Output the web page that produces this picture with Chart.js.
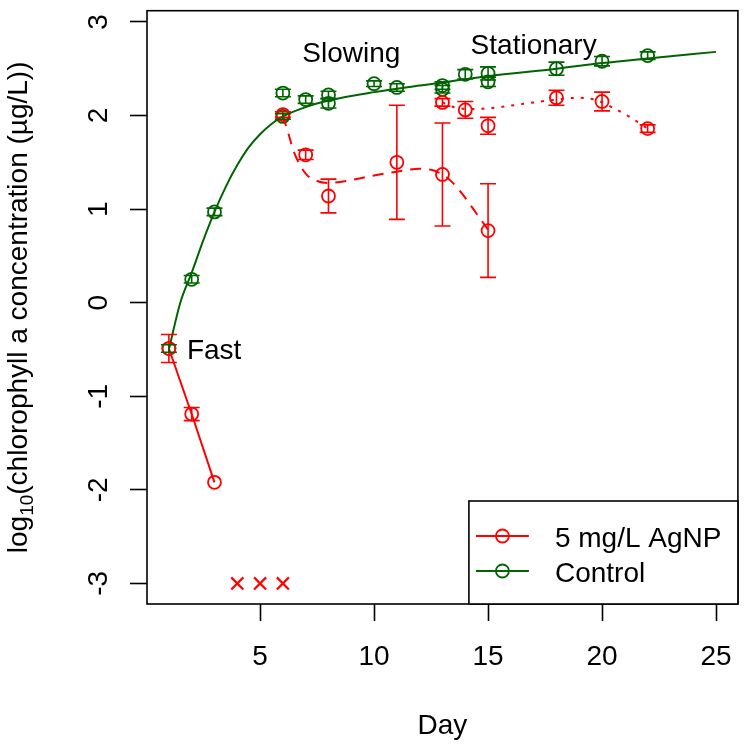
<!DOCTYPE html>
<html><head><meta charset="utf-8">
<script src="https://cdn.jsdelivr.net/npm/chart.js@4/dist/chart.umd.min.js"></script>
<style>html,body{margin:0;padding:0;background:#fff;}#wrap{width:751px;height:750px;position:relative;}</style>
</head><body><div id="wrap"><canvas id="c"></canvas></div>
<script>
// ---------- data ----------
const xTickValues = [5, 10, 15, 20, 25];
const yTickValues = [-3, -2, -1, 0, 1, 2, 3];

// 5 mg/L AgNP: fast phase (solid line)
const agFastDays = [1, 2, 3];
const agFastVals = [-0.49, -1.19, -1.92];
const agFastErr  = [0.15, 0.07, 0];
// 5 mg/L AgNP: below detection (x markers)
const agLostDays = [4, 5, 6];
const agLostVals = [-3, -3, -3];
// 5 mg/L AgNP: slowing phase points
const agMidDays = [6, 7, 8, 11, 13, 15];
const agMidVals = [2.01, 1.58, 1.14, 1.50, 1.37, 0.77];
const agMidErr  = [0.03, 0.05, 0.18, 0.61, 0.55, 0.50];
// 5 mg/L AgNP: stationary phase points
const agLateDays = [13, 14, 15, 18, 20, 22];
const agLateVals = [2.14, 2.06, 1.89, 2.19, 2.15, 1.86];
const agLateErr  = [0.04, 0.09, 0.09, 0.08, 0.10, 0.04];
// 5 mg/L AgNP: dashed smooth curve
const agMidFitDays = [6, 6.25, 6.5, 7, 7.5, 8, 9, 10, 11, 12, 12.5, 13, 13.5, 14, 14.5, 15];
const agMidFitVals = [2.0, 1.80, 1.60, 1.38, 1.30, 1.28, 1.31, 1.36, 1.40, 1.43, 1.42, 1.37, 1.27, 1.12, 0.95, 0.78];
// 5 mg/L AgNP: dotted smooth curve
const agLateFitDays = [13, 13.5, 14.5, 15.5, 17, 18, 19, 19.8, 20.5, 21.25, 22];
const agLateFitVals = [2.14, 2.09, 2.07, 2.09, 2.14, 2.17, 2.19, 2.16, 2.08, 1.98, 1.86];

// Control points
const ctrlDays = [1, 2, 3, 6, 6, 7, 8, 8, 10, 11, 13, 13, 14, 15, 15, 18, 20, 22];
const ctrlVals = [-0.49, 0.25, 0.97, 2.24, 1.99, 2.17, 2.22, 2.13, 2.34, 2.30, 2.32, 2.28, 2.44, 2.45, 2.36, 2.50, 2.58, 2.64];
const ctrlErr  = [0.04, 0.04, 0.04, 0.04, 0.03, 0.04, 0.04, 0.05, 0.03, 0.04, 0.04, 0.04, 0.05, 0.07, 0.05, 0.07, 0.05, 0.04];
// Control fitted curve
const ctrlFitDays = [1, 1.5, 2, 2.5, 3, 3.5, 4, 4.5, 5, 5.5, 6, 7, 8, 10, 12, 15, 18, 20, 22, 25];
const ctrlFitVals = [-0.5, 0.0, 0.32, 0.66, 0.97, 1.24, 1.47, 1.66, 1.80, 1.91, 1.99, 2.09, 2.16, 2.25, 2.32, 2.42, 2.50, 2.56, 2.61, 2.68];

// Text
const seriesNames = ['5 mg/L AgNP', 'Control'];
const phaseLabels = ['Slowing', 'Stationary', 'Fast'];
const xTitle = 'Day';

// ---------- styling ----------
const FONT = '"Liberation Sans", Arial, Helvetica, sans-serif';
const FS = 28;
const RED = '#ff0000', GREEN = '#006400';
const pts = (xs, ys) => xs.map((x, i) => ({x: x, y: ys[i]}));

const circle = (color) => ({
  pointStyle: 'circle', pointRadius: 6.5, pointBorderWidth: 1.8,
  pointBorderColor: color, pointBackgroundColor: 'rgba(0,0,0,0)', pointHoverRadius: 6.5
});

const datasets = [
  Object.assign({label: seriesNames[0], data: pts(agFastDays, agFastVals), errors: agFastErr,
    showLine: true, borderColor: RED, borderWidth: 2}, circle(RED)),
  {label: 'lost', data: pts(agLostDays, agLostVals), showLine: false, borderColor: RED,
    pointStyle: 'crossRot', pointRadius: 8.5, pointBorderWidth: 2.2, pointBorderColor: RED},
  Object.assign({label: 'mid', data: pts(agMidDays, agMidVals), errors: agMidErr,
    showLine: false, borderColor: RED}, circle(RED)),
  Object.assign({label: 'late', data: pts(agLateDays, agLateVals), errors: agLateErr,
    showLine: false, borderColor: RED}, circle(RED)),
  {label: 'midfit', data: pts(agMidFitDays, agMidFitVals), showLine: true, borderColor: RED,
    borderWidth: 2, borderDash: [11, 8], pointRadius: 0, cubicInterpolationMode: 'monotone'},
  {label: 'latefit', data: pts(agLateFitDays, agLateFitVals), showLine: true, borderColor: RED,
    borderWidth: 2, borderDash: [3, 7], pointRadius: 0, cubicInterpolationMode: 'monotone'},
  Object.assign({label: seriesNames[1], data: pts(ctrlDays, ctrlVals), errors: ctrlErr,
    showLine: false, borderColor: GREEN}, circle(GREEN)),
  {label: 'ctrlfit', data: pts(ctrlFitDays, ctrlFitVals), showLine: true, borderColor: GREEN,
    borderWidth: 2, pointRadius: 0, cubicInterpolationMode: 'monotone'}
];

const overlay = {
  id: 'overlay',
  afterDatasetsDraw(chart) {
    const ctx = chart.ctx, xs = chart.scales.x, ys = chart.scales.y;
    chart.data.datasets.forEach(ds => {
      if (!ds.errors) return;
      ctx.save();
      ctx.strokeStyle = ds.borderColor; ctx.lineWidth = 1.6;
      ds.data.forEach((p, i) => {
        const e = ds.errors[i]; if (!e) return;
        const px = xs.getPixelForValue(p.x);
        const y1 = ys.getPixelForValue(p.y + e), y2 = ys.getPixelForValue(p.y - e);
        ctx.beginPath();
        ctx.moveTo(px, y1); ctx.lineTo(px, y2);
        ctx.moveTo(px - 8, y1); ctx.lineTo(px + 8, y1);
        ctx.moveTo(px - 8, y2); ctx.lineTo(px + 8, y2);
        ctx.stroke();
      });
      ctx.restore();
    });
  },
  afterDraw(chart) {
    const ctx = chart.ctx, ca = chart.chartArea, xs = chart.scales.x, ys = chart.scales.y;
    ctx.save();
    // plot box
    ctx.strokeStyle = '#000'; ctx.lineWidth = 1.6;
    ctx.strokeRect(ca.left, ca.top, ca.right - ca.left, ca.bottom - ca.top);
    ctx.fillStyle = '#000';
    ctx.font = FS + 'px ' + FONT;
    // y tick labels (rotated, as in R)
    ys.ticks.forEach(t => {
      const py = ys.getPixelForValue(t.value);
      ctx.save();
      ctx.translate(ca.left - 40, py);
      ctx.rotate(-Math.PI / 2);
      ctx.textAlign = 'center'; ctx.textBaseline = 'alphabetic';
      ctx.fillText(String(t.value), 0, 0);
      ctx.restore();
    });
    // y axis title with subscript
    const parts = [
      {t: 'log', s: FS, dy: 0},
      {t: '10', s: 19, dy: 6},
      {t: '(chlorophyll a concentration (\u00b5g/L))', s: FS, dy: 0}
    ];
    let total = 0;
    parts.forEach(p => { ctx.font = p.s + 'px ' + FONT; p.w = ctx.measureText(p.t).width; total += p.w; });
    ctx.save();
    ctx.translate(27, (ca.top + ca.bottom) / 2);
    ctx.rotate(-Math.PI / 2);
    ctx.textAlign = 'left'; ctx.textBaseline = 'alphabetic';
    let cx = -total / 2;
    parts.forEach(p => { ctx.font = p.s + 'px ' + FONT; ctx.fillText(p.t, cx, p.dy); cx += p.w; });
    ctx.restore();
    // phase annotations
    ctx.font = FS + 'px ' + FONT;
    ctx.textBaseline = 'alphabetic';
    ctx.textAlign = 'center';
    ctx.fillText(phaseLabels[0], xs.getPixelForValue(9), ys.getPixelForValue(2.57));
    ctx.fillText(phaseLabels[1], xs.getPixelForValue(17), ys.getPixelForValue(2.655));
    ctx.textAlign = 'left';
    ctx.fillText(phaseLabels[2], xs.getPixelForValue(1) + 18, ys.getPixelForValue(-0.5) + 10);
    // legend
    const lx = ca.right - 269, ly = ca.bottom - 103;
    ctx.fillStyle = '#fff';
    ctx.fillRect(lx, ly, ca.right - lx, ca.bottom - ly);
    ctx.strokeStyle = '#000'; ctx.lineWidth = 1.6;
    ctx.strokeRect(lx, ly, ca.right - lx, ca.bottom - ly);
    [[RED, 35, seriesNames[0]], [GREEN, 70, seriesNames[1]]].forEach(([col, dy, txt]) => {
      const yy = ly + dy;
      ctx.strokeStyle = col; ctx.lineWidth = 2;
      ctx.beginPath(); ctx.moveTo(lx + 7, yy); ctx.lineTo(lx + 60, yy); ctx.stroke();
      ctx.lineWidth = 1.8;
      ctx.beginPath(); ctx.arc(lx + 33.5, yy, 6.5, 0, Math.PI * 2); ctx.stroke();
      ctx.fillStyle = '#000'; ctx.textAlign = 'left'; ctx.textBaseline = 'alphabetic';
      ctx.fillText(txt, lx + 86, yy + 10.5);
    });
    ctx.restore();
  }
};

new Chart(document.getElementById('c'), {
  type: 'scatter',
  data: {datasets: datasets},
  options: {
    responsive: true, maintainAspectRatio: false, animation: false,
    layout: {padding: {top: 9, right: 9, left: 0, bottom: 0}},
    plugins: {legend: {display: false}, tooltip: {enabled: false}},
    scales: {
      x: {
        type: 'linear', position: 'bottom', min: 0.04, max: 25.96,
        afterBuildTicks: s => { s.ticks = xTickValues.map(v => ({value: v})); },
        ticks: {color: '#000', font: {family: FONT, size: FS}, padding: 19, maxRotation: 0, autoSkip: false},
        grid: {display: true, drawOnChartArea: false, drawTicks: true, tickLength: 17, tickColor: '#000', tickWidth: 1.6, color: '#000'},
        border: {display: false},
        title: {display: true, text: xTitle, color: '#000', font: {family: FONT, size: FS}, padding: {top: 7, bottom: 7}},
        afterFit: s => { s.height = 146; }
      },
      y: {
        type: 'linear', min: -3.22, max: 3.12,
        afterBuildTicks: s => { s.ticks = yTickValues.map(v => ({value: v})); },
        ticks: {display: false},
        grid: {display: true, drawOnChartArea: false, drawTicks: true, tickLength: 17, tickColor: '#000', tickWidth: 1.6, color: '#000'},
        border: {display: false},
        afterFit: s => { s.width = 147; }
      }
    }
  },
  plugins: [overlay]
});
</script></body></html>
